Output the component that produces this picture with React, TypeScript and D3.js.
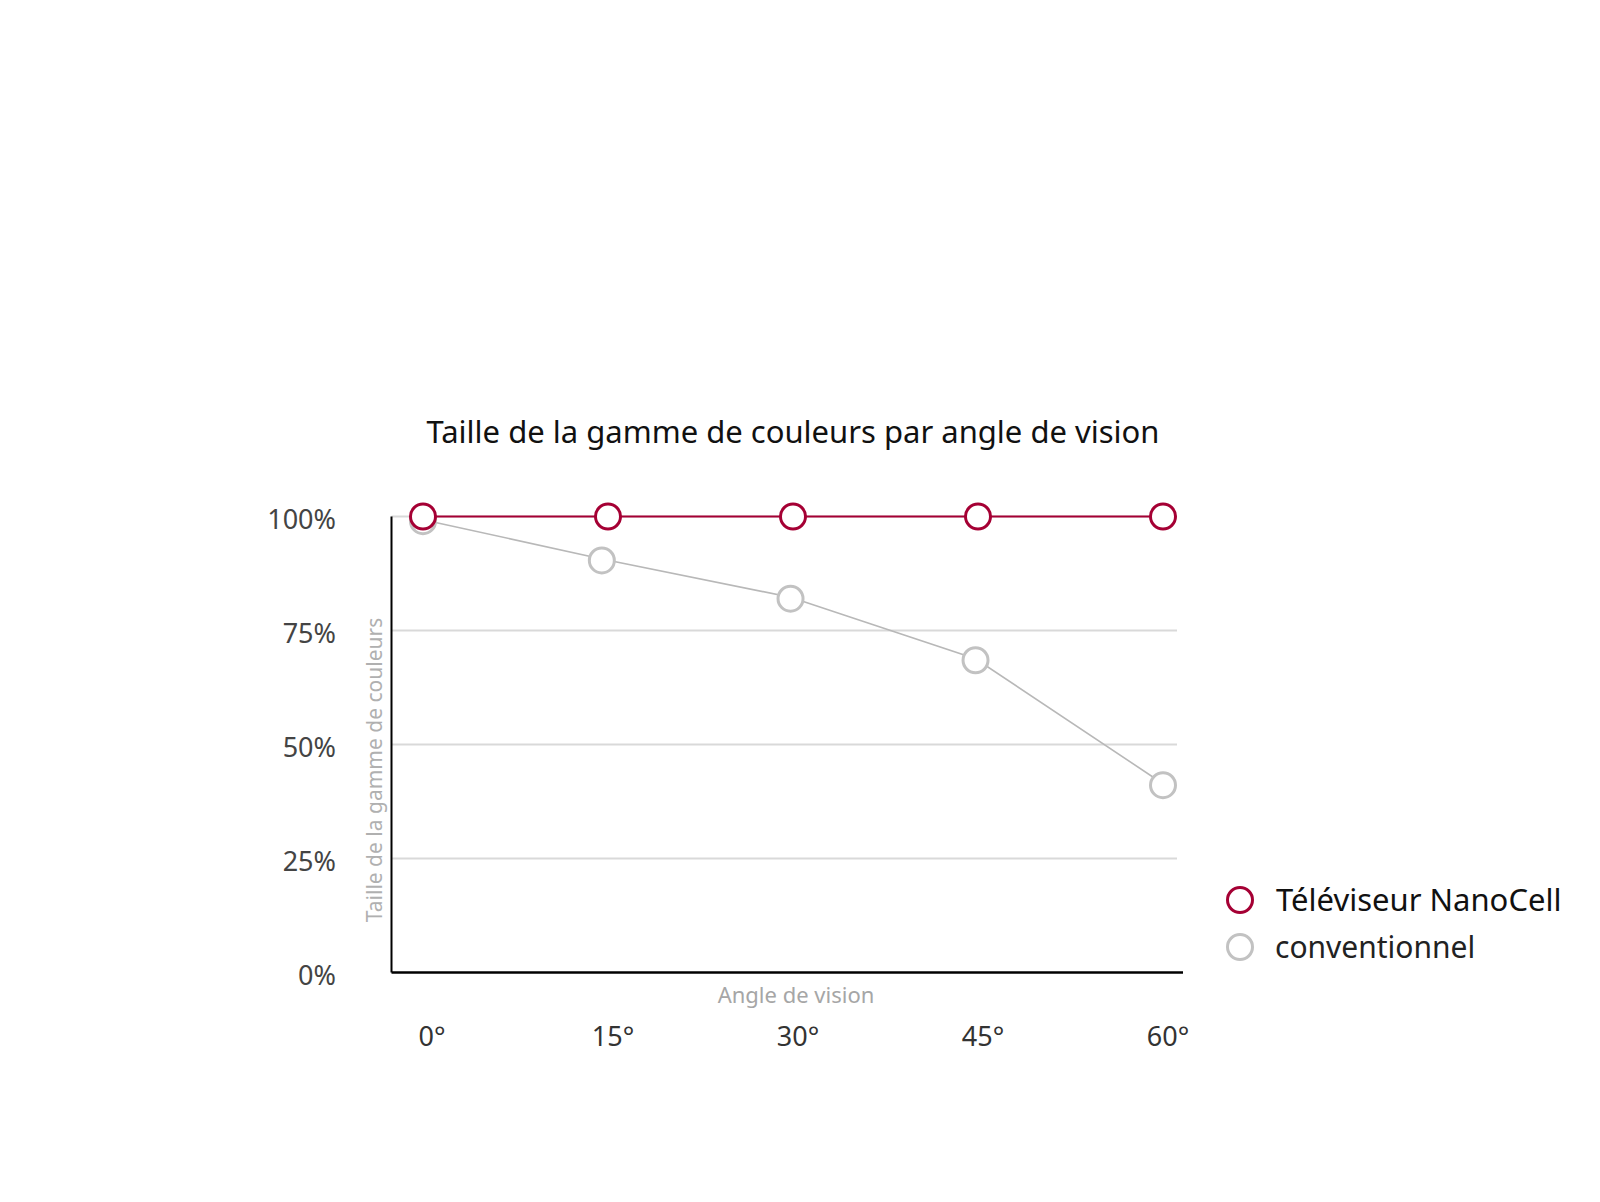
import * as d3 from "d3";

const angles = [0, 15, 30, 45, 60];
const angleLabels = ["0°", "15°", "30°", "45°", "60°"];
const nanoCell = [100, 100, 100, 100, 100];
const conventionalAngles = [0, 14.5, 29.8, 44.8, 60];
const conventional = [99.3, 90.7, 82.3, 68.8, 41.4];
const yTicks = [0, 25, 50, 75, 100];
const yTickLabels = ["0%", "25%", "50%", "75%", "100%"];

const RED = "#a50034";
const GREY = "#c2c2c2";
const FONT = "'Noto Sans', 'Open Sans', sans-serif";

const width = 1600;
const height = 1202;
const plotLeft = 391.5;
const plotRight = 1177;

const App = () => {
  const x = d3.scaleLinear().domain([0, 60]).range([423, 1163]);
  const y = d3.scaleLinear().domain([0, 100]).range([972.5, 516.5]);

  const redLine = d3
    .line<number>()
    .x((_, i) => x(angles[i]))
    .y((d) => y(d));
  const greyLine = d3
    .line<number>()
    .x((_, i) => x(conventionalAngles[i]))
    .y((d) => y(d));

  return (
    <svg
      width={width}
      height={height}
      style={{ position: "absolute", left: 0, top: 0, background: "#fff" }}
      fontFamily={FONT}
    >
      <text x={793} y={443} textAnchor="middle" fontSize={31} fill="#111">
        Taille de la gamme de couleurs par angle de vision
      </text>

      {/* grid */}
      {yTicks.slice(1).map((t) => (
        <line
          key={t}
          x1={plotLeft}
          x2={plotRight}
          y1={y(t)}
          y2={y(t)}
          stroke="#d9d9d9"
          strokeWidth={2}
        />
      ))}
      {yTicks.map((t, i) => (
        <text
          key={t}
          x={336}
          y={y(t)}
          dy="0.46em"
          textAnchor="end"
          fontSize={27}
          fill="#444"
        >
          {yTickLabels[i]}
        </text>
      ))}

      {/* axes */}
      <line x1={plotLeft} x2={plotLeft} y1={y(100)} y2={y(0)} stroke="#000" strokeWidth={2} />
      <line x1={plotLeft} x2={plotRight + 6} y1={y(0)} y2={y(0)} stroke="#000" strokeWidth={2.5} />

      {angles.map((a, i) => (
        <text key={a} x={x(a) + (i === 0 ? 9 : 5)} y={1046} textAnchor="middle" fontSize={27} fill="#333">
          {angleLabels[i]}
        </text>
      ))}

      <text x={796} y={1003} textAnchor="middle" fontSize={22} fill="#a6a6a6">
        Angle de vision
      </text>
      <text
        transform="translate(382, 770) rotate(-90)"
        textAnchor="middle"
        fontSize={21}
        fill="#b0b0b0"
      >
        Taille de la gamme de couleurs
      </text>

      {/* conventional series */}
      <path d={greyLine(conventional) ?? ""} fill="none" stroke="#b8b8b8" strokeWidth={1.6} />
      {conventional.map((v, i) => (
        <circle
          key={i}
          cx={x(conventionalAngles[i])}
          cy={y(v) + 1.5}
          r={12.5}
          fill="#fff"
          stroke={GREY}
          strokeWidth={3}
        />
      ))}

      {/* NanoCell series */}
      <path d={redLine(nanoCell) ?? ""} fill="none" stroke={RED} strokeWidth={2} />
      {nanoCell.map((v, i) => (
        <circle
          key={i}
          cx={x(angles[i])}
          cy={y(v)}
          r={12.5}
          fill="#fff"
          stroke={RED}
          strokeWidth={3}
        />
      ))}

      {/* legend */}
      <circle cx={1240} cy={900} r={12.5} fill="#fff" stroke={RED} strokeWidth={3} />
      <text x={1276} y={911} fontSize={31} fill="#111">
        Téléviseur NanoCell
      </text>
      <circle cx={1240} cy={947} r={12.5} fill="#fff" stroke={GREY} strokeWidth={3} />
      <text x={1275} y={958} fontSize={30} fill="#222">
        conventionnel
      </text>
    </svg>
  );
};

export default App;
